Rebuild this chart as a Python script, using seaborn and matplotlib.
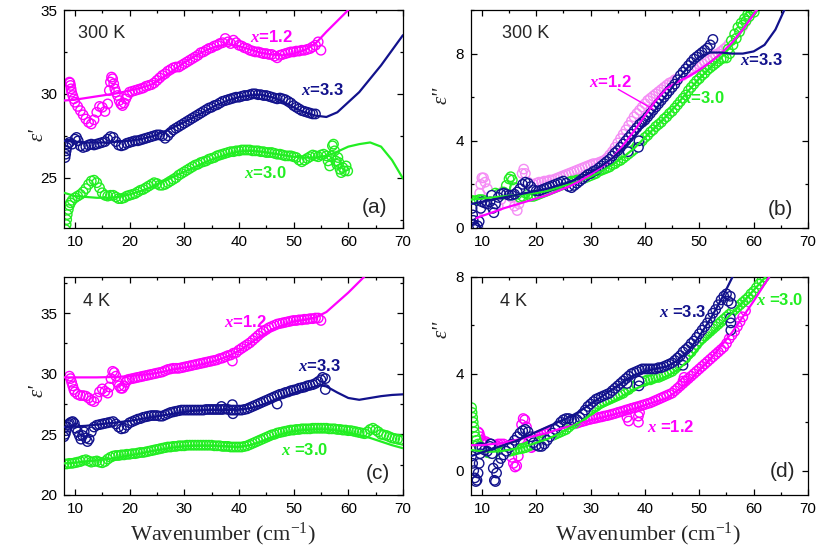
import numpy as np
import matplotlib
matplotlib.use("Agg")
import matplotlib.pyplot as plt
from matplotlib.ticker import MultipleLocator
import seaborn as sns


def wn(start, stop):
    """Measurement grid in wavenumber, 0.5 cm^-1 step, end inclusive."""
    return [round(v, 2) for v in np.arange(start, stop + 0.25, 0.5)]


# ---------------------------------------------------------------- panel (a): eps' at 300 K
A12_X = [9.0, 9.1, 9.2, 9.3, 9.4, 9.6, 9.8, 10.0, 10.5, 11.0,
         11.5, 12.0, 12.5, 13.0, 13.5, 14.0, 14.5, 15.0, 15.5, 16.0,
         16.3, 16.5, 16.7, 16.9, 17.1, 17.3, 17.5, 17.8, 18.1, 18.4,
         18.7, 19.0, 19.3, 19.6] + wn(20, 55)
A12_Y = [30.7, 30.65, 30.5, 30.3, 30.1, 29.9, 29.7, 29.5, 29.25, 29.0,
         28.75, 28.5, 28.3, 28.2, 28.45, 28.9, 29.25, 29.2, 28.95, 29.4,
         30.2, 30.7, 31.0, 30.9, 30.6, 30.3, 30.1, 29.9, 29.6, 29.4,
         29.3, 29.45, 29.7, 29.9,
         30.1, 30.15, 30.2, 30.25, 30.3, 30.35, 30.45, 30.5, 30.55, 30.65,
         30.8, 30.95, 31.1, 31.2, 31.35, 31.45, 31.55, 31.6, 31.6, 31.7,
         31.8, 31.9, 32.0, 32.1, 32.2, 32.3, 32.45, 32.5, 32.6, 32.7,
         32.75, 32.85, 32.9, 33.0, 33.05, 33.3, 33.1, 33.0, 33.2, 33.05,
         32.9, 32.85, 32.75, 32.7, 32.6, 32.55, 32.5, 32.5, 32.45, 32.4,
         32.4, 32.35, 32.35, 32.25, 32.15, 32.3, 32.35, 32.4, 32.45, 32.5,
         32.5, 32.55, 32.55, 32.6, 32.6, 32.65, 32.7, 32.8, 32.9, 33.1,
         32.6]

A33_X = [8.2, 8.3, 8.4, 8.5, 8.7, 9.0, 9.5, 10.0, 10.3, 10.6,
         11.0, 11.5, 12.0, 12.5, 13.0, 13.5, 14.0, 14.5, 15.0, 15.5,
         16.0, 16.5, 17.0, 17.5, 18.0, 18.5, 19.0, 19.5] + wn(20, 54)
A33_Y = [26.2, 26.4, 26.6, 26.8, 27.0, 27.1, 27.0, 27.3, 27.4, 27.2,
         26.9, 26.8, 26.85, 26.95, 27.0, 26.95, 27.0, 27.05, 27.1, 27.15,
         27.3, 27.45, 27.4, 27.15, 26.95, 26.9, 26.95, 27.05,
         27.1, 27.15, 27.2, 27.2, 27.25, 27.3, 27.35, 27.4, 27.45, 27.5,
         27.55, 27.55, 27.5, 27.35, 27.5, 27.7, 27.85, 27.95, 28.05, 28.15,
         28.25, 28.35, 28.45, 28.55, 28.65, 28.75, 28.85, 28.95, 29.05, 29.15,
         29.2, 29.3, 29.35, 29.45, 29.55, 29.6, 29.65, 29.7, 29.75, 29.8,
         29.8, 29.85, 29.9, 29.9, 29.95, 30.0, 30.0, 29.95, 29.95, 29.9,
         29.9, 29.85, 29.8, 29.75, 29.7, 29.75, 29.7, 29.65, 29.55, 29.45,
         29.3, 29.2, 29.1, 29.0, 28.95, 28.9, 28.85, 28.8, 28.8]

A30_X = [8.3, 8.4, 8.5, 8.6, 8.8, 9.0, 9.2, 9.5, 10.0, 10.5,
         11.0, 11.5, 12.0, 12.5, 13.0, 13.5, 14.0, 14.5, 15.0, 15.5,
         16.0, 16.5, 17.0, 17.5, 18.0, 18.5, 19.0, 19.5] + wn(20, 56) + [
         56.3, 56.6, 56.9, 57.1, 57.3, 57.5, 57.7, 57.9, 58.1, 58.3,
         58.5, 58.7, 59.0, 59.3, 59.6, 59.9]
A30_Y = [21.9, 22.2, 22.5, 22.8, 23.1, 23.35, 23.5, 23.65, 23.8, 23.9,
         24.0, 24.15, 24.35, 24.6, 24.8, 24.85, 24.7, 24.4, 24.1, 23.95,
         23.9, 23.95, 23.95, 23.85, 23.75, 23.75, 23.8, 23.9,
         23.95, 24.0, 24.05, 24.15, 24.25, 24.3, 24.4, 24.5, 24.6, 24.7,
         24.65, 24.55, 24.55, 24.6, 24.7, 24.8, 24.9, 25.0, 25.15, 25.25,
         25.35, 25.45, 25.55, 25.65, 25.75, 25.8, 25.9, 25.95, 26.0, 26.1,
         26.15, 26.2, 26.3, 26.35, 26.4, 26.45, 26.5, 26.55, 26.55, 26.6,
         26.6, 26.65, 26.65, 26.65, 26.65, 26.6, 26.6, 26.6, 26.55, 26.55,
         26.5, 26.5, 26.5, 26.45, 26.4, 26.4, 26.35, 26.3, 26.3, 26.3,
         26.25, 26.2, 26.05, 25.95, 26.05, 26.15, 26.25, 26.35, 26.3, 26.25,
         26.35, 26.4, 26.3,
         26.0, 25.7, 26.3, 26.9, 27.0, 26.6, 26.0, 25.8, 26.2, 25.9,
         25.5, 25.3, 25.6, 25.4, 25.7, 25.4]

FIT_A12_X = [8, 10, 12, 14, 16, 18, 20, 22, 24, 26, 28, 30, 32, 34, 36,
             38, 40, 42, 44, 46, 48, 50, 52, 54, 56, 58, 60, 62]
FIT_A12_Y = [29.6, 29.65, 29.75, 29.85, 29.95, 30.05, 30.2, 30.35, 30.55, 30.95,
             31.4, 31.85, 32.25, 32.6, 32.85, 32.95, 32.85, 32.65, 32.45, 32.35,
             32.3, 32.4, 32.6, 33.0, 33.7, 34.35, 35.0, 35.7]
FIT_A33_X = [8, 10, 12, 14, 16, 18, 20, 22, 24, 26, 28, 30, 32, 34, 36, 38,
             40, 42, 44, 46, 48, 50, 52, 54, 56, 58, 60, 62, 64, 66, 68, 70]
FIT_A33_Y = [27.2, 27.15, 27.1, 27.1, 27.1, 27.15, 27.2, 27.3, 27.45, 27.7,
             28.0, 28.3, 28.65, 29.0, 29.35, 29.6, 29.8, 29.9, 29.95, 29.8,
             29.55, 29.2, 28.9, 28.7, 28.62, 28.9, 29.5, 30.1, 30.9, 31.7,
             32.6, 33.5]
FIT_A30_X = FIT_A33_X
FIT_A30_Y = [24.1, 23.9, 23.85, 23.8, 23.8, 23.85, 24.0, 24.2, 24.45, 24.75,
             25.05, 25.35, 25.65, 25.95, 26.2, 26.4, 26.55, 26.6, 26.55, 26.45,
             26.35, 26.25, 26.2, 26.2, 26.3, 26.55, 26.85, 27.0, 27.1, 26.85,
             26.05, 24.95]

# ---------------------------------------------------------------- panel (b): eps'' at 300 K
B12_X = [8.5, 8.8, 9.0, 9.2, 9.4, 9.6, 9.8, 10.0, 10.3, 10.6,
         11.0, 11.5, 12.0, 12.5, 13.0, 13.5, 14.0, 14.5, 15.0, 15.5,
         16.0, 16.5, 16.8, 17.1, 17.4, 17.7, 18.0, 18.5, 19.0, 19.5] + wn(20, 60)
B12_Y = [1.0, 0.6, 0.5, 0.7, 1.1, 1.6, 2.0, 2.3, 2.3, 2.1,
         1.8, 1.4, 1.1, 0.95, 1.0, 1.3, 1.7, 1.9, 1.8, 1.4,
         1.0, 0.8, 1.1, 1.8, 2.5, 2.7, 2.5, 2.1, 1.9, 2.0,
         2.05, 2.1, 2.1, 2.15, 2.15, 2.2, 2.2, 2.25, 2.3, 2.35,
         2.4, 2.45, 2.5, 2.55, 2.6, 2.65, 2.7, 2.75, 2.8, 2.85,
         2.9, 2.95, 2.95, 3.0, 3.05, 3.1, 3.2, 3.35, 3.5, 3.7,
         3.9, 4.1, 4.3, 4.5, 4.7, 4.9, 5.1, 5.25, 5.4, 5.55,
         5.7, 5.85, 5.95, 6.05, 6.15, 6.25, 6.35, 6.45, 6.55, 6.65,
         6.7, 6.8, 6.85, 6.95, 7.0, 7.1, 7.15, 7.25, 7.3, 7.4,
         7.5, 7.55, 7.65, 7.7, 7.8, 7.85, 7.95, 8.0, 8.1, 8.2,
         8.3, 8.45, 8.6, 8.75, 8.9, 9.05, 9.25, 9.45, 9.65, 9.85,
         10.05]

B33_X = [8.2, 8.3, 8.4, 8.5, 8.7, 8.9, 9.2, 9.5, 9.8, 10.0,
         10.5, 11.0, 11.5, 11.8, 12.0, 12.2, 12.5, 13.0, 13.5, 14.0,
         14.5, 15.0, 15.5, 16.0, 16.5, 17.0, 17.5, 18.0, 18.5, 19.0,
         19.5] + wn(20, 52.5) + [36.9, 38.8, 38.9]
B33_Y = [0.9, 0.6, 0.35, 0.15, 0.05, 0.0, 0.1, 0.3, 0.9, 1.2,
         1.15, 1.1, 1.2, 1.5, 0.9, 0.7, 1.1, 1.4, 1.55, 1.6,
         1.55, 1.5, 1.5, 1.55, 1.65, 1.8, 2.0, 2.1, 2.05, 1.9,
         1.75,
         1.7, 1.7, 1.75, 1.8, 1.85, 1.9, 1.95, 2.0, 2.05, 2.1,
         2.15, 2.05, 1.9, 1.85, 1.95, 2.05, 2.15, 2.25, 2.35, 2.45,
         2.5, 2.6, 2.65, 2.75, 2.85, 2.95, 3.05, 3.15, 3.3, 3.45,
         3.55, 3.7, 3.85, 4.0, 4.15, 4.3, 4.45, 4.6, 4.75, 4.85,
         4.95, 5.1, 5.25, 5.4, 5.55, 5.7, 5.85, 6.0, 6.15, 6.3,
         6.45, 6.6, 6.8, 7.0, 7.15, 7.3, 7.45, 7.6, 7.75, 7.85,
         7.95, 8.05, 8.15, 8.25, 8.4, 8.65,
         3.5, 3.7, 4.0]

B30_X = [8.2, 8.5, 9.0, 9.5, 10.0, 10.5, 11.0, 11.5, 12.0, 12.5,
         13.0, 13.5, 14.0, 14.5, 15.0, 15.3, 15.6, 16.0, 16.5, 17.0,
         17.5, 18.0, 18.5, 19.0, 19.5] + wn(20, 54.5) + [
         55.0, 55.3, 55.6, 55.9, 56.2, 56.5, 56.8, 57.1, 57.4, 57.7,
         58.0, 58.3, 58.6, 58.9, 59.2, 59.5, 59.8, 60.1]
B30_Y = [1.25, 1.25, 1.25, 1.3, 1.3, 1.25, 1.2, 1.3, 1.45, 1.6,
         1.55, 1.5, 1.65, 1.95, 2.25, 2.35, 2.2, 1.85, 1.55, 1.4,
         1.45, 1.6, 1.55, 1.45, 1.45,
         1.5, 1.55, 1.6, 1.65, 1.7, 1.75, 1.8, 1.85, 1.9, 1.95,
         2.0, 2.05, 2.1, 2.15, 2.15, 2.2, 2.2, 2.25, 2.3, 2.35,
         2.4, 2.45, 2.5, 2.6, 2.65, 2.7, 2.75, 2.8, 2.9, 2.95,
         3.05, 3.1, 3.2, 3.3, 3.4, 3.5, 3.6, 3.75, 3.85, 4.0,
         4.15, 4.25, 4.4, 4.5, 4.65, 4.75, 4.85, 5.0, 5.1, 5.25,
         5.35, 5.5, 5.65, 5.8, 5.95, 6.1, 6.3, 6.45, 6.6, 6.75,
         6.85, 7.0, 7.1, 7.25, 7.35, 7.45, 7.55, 7.65, 7.75, 7.8,
         7.8, 8.2, 8.0, 8.6, 8.4, 8.9, 8.7, 9.2, 9.0, 9.4,
         9.3, 9.6, 9.5, 9.8, 9.7, 9.9, 10.0, 9.9]

FIT_B12_X = [9, 10, 12, 14, 16, 18, 20, 22, 24, 26, 28, 30, 32, 34, 36, 38,
             40, 42, 44, 46, 48, 50, 52, 54, 56, 58, 60, 62]
FIT_B12_Y = [0.45, 0.55, 0.72, 0.9, 1.05, 1.2, 1.35, 1.5, 1.7, 1.9,
             2.15, 2.45, 2.8, 3.2, 3.8, 4.45, 5.15, 5.85, 6.4, 6.7,
             6.95, 7.25, 7.6, 8.0, 8.5, 9.1, 9.8, 10.5]
FIT_B33_X = [8, 10, 12, 14, 16, 18, 20, 22, 24, 26, 28, 30, 32, 34, 36, 38,
             40, 42, 44, 46, 48, 50, 52, 54, 56, 58, 60, 62, 64, 66]
FIT_B33_Y = [1.1, 1.2, 1.3, 1.4, 1.5, 1.6, 1.7, 1.8, 1.95, 2.1,
             2.3, 2.55, 2.85, 3.2, 3.65, 4.2, 4.8, 5.45, 6.1, 6.8,
             7.4, 7.85, 8.05, 8.05, 8.0, 8.0, 8.1, 8.4, 9.1, 10.2]
FIT_B30_X = [8, 10, 12, 14, 16, 18, 20, 22, 24, 26, 28, 30, 32, 34, 36, 38,
             40, 42, 44, 46, 48, 50, 52, 54, 56, 58, 60, 62]
FIT_B30_Y = [1.3, 1.35, 1.4, 1.45, 1.5, 1.55, 1.6, 1.7, 1.85, 2.0,
             2.15, 2.35, 2.6, 2.9, 3.25, 3.65, 4.15, 4.65, 5.15, 5.7,
             6.3, 6.85, 7.35, 7.8, 8.4, 9.1, 9.85, 10.6]

# ---------------------------------------------------------------- panel (c): eps' at 4 K
C12_X = [9.0, 9.2, 9.4, 9.6, 9.8, 10.0, 10.5, 11.0, 11.5, 12.0,
         12.5, 13.0, 13.5, 14.0, 14.5, 15.0, 15.5, 16.0, 16.3, 16.6,
         16.9, 17.2, 17.5, 17.8, 18.1, 18.4, 18.7, 19.0, 19.3, 19.6] + wn(20, 55) + [38.8]
C12_Y = [29.8, 29.6, 29.3, 29.0, 28.7, 28.5, 28.3, 28.2, 28.2, 28.15,
         28.0, 27.8, 27.7, 28.0, 28.5, 28.75, 28.55, 28.4, 28.9, 29.6,
         30.2, 30.1, 29.8, 29.3, 29.0, 28.8, 28.8, 29.0, 29.3, 29.5,
         29.55, 29.6, 29.65, 29.7, 29.75, 29.8, 29.85, 29.9, 29.95, 30.0,
         30.05, 30.1, 30.15, 30.25, 30.35, 30.4, 30.45, 30.45, 30.45, 30.5,
         30.55, 30.6, 30.65, 30.7, 30.75, 30.8, 30.85, 30.9, 30.95, 31.0,
         31.05, 31.1, 31.15, 31.25, 31.3, 31.4, 31.5, 31.55, 31.7, 31.75,
         31.95, 32.1, 32.25, 32.4, 32.55, 32.75, 32.95, 33.15, 33.35, 33.5,
         33.65, 33.8, 33.9, 34.0, 34.1, 34.15, 34.2, 34.25, 34.3, 34.35,
         34.4, 34.4, 34.45, 34.45, 34.5, 34.5, 34.55, 34.55, 34.6, 34.6,
         34.4,
         31.05]

C33_X = [8.0, 8.2, 8.4, 8.6, 8.8, 9.0, 9.3, 9.6, 9.9, 10.2,
         10.5, 10.8, 11.1, 11.4, 11.7, 12.0, 12.3, 12.6, 13.0, 13.5,
         14.0, 14.5, 15.0, 15.5, 16.0, 16.5, 17.0, 17.5, 18.0, 18.5,
         19.0, 19.5] + wn(20, 55) + [36.8, 38.8, 38.9, 47.0, 55.3, 55.8, 55.8]
C33_Y = [24.8, 25.0, 25.3, 25.6, 25.8, 25.9, 26.0, 26.05, 25.9, 25.5,
         25.2, 24.9, 24.6, 24.9, 25.2, 24.7, 24.4, 24.6, 25.2, 25.6,
         25.75, 25.8, 25.85, 25.9, 25.95, 26.0, 26.05, 25.85, 25.6, 25.45,
         25.5, 25.75,
         25.95, 26.05, 26.15, 26.25, 26.3, 26.4, 26.45, 26.5, 26.55, 26.55,
         26.55, 26.5, 26.5, 26.6, 26.7, 26.8, 26.85, 26.9, 26.95, 27.0,
         27.0, 27.0, 27.0, 27.0, 27.0, 27.0, 27.0, 27.0, 27.05, 27.05,
         27.05, 27.05, 27.05, 27.05, 27.05, 27.1, 27.05, 27.0, 27.0, 27.0,
         27.0, 27.0, 27.05, 27.1, 27.2, 27.3, 27.4, 27.5, 27.6, 27.7,
         27.8, 27.9, 28.0, 28.1, 28.2, 28.3, 28.35, 28.45, 28.5, 28.6,
         28.65, 28.7, 28.8, 28.85, 28.9, 29.0, 29.05, 29.1, 29.2, 29.35,
         29.5,
         27.3, 27.45, 26.7, 27.5, 29.7, 29.6, 28.7]

C30_X = wn(8, 70)
C30_Y = [22.55, 22.55, 22.6, 22.6, 22.65, 22.7, 22.75, 22.85, 22.9, 22.8,
         22.7, 22.75, 22.8, 22.7, 22.65, 22.75, 22.95, 23.1, 23.2, 23.25,
         23.25, 23.3, 23.3, 23.35, 23.35, 23.4, 23.4, 23.45, 23.5, 23.5,
         23.55, 23.6, 23.65, 23.7, 23.75, 23.8, 23.85, 23.9, 23.95, 23.95,
         24.0, 24.0, 24.05, 24.05, 24.05, 24.1, 24.1, 24.1, 24.1, 24.1,
         24.1, 24.1, 24.1, 24.1, 24.1, 24.05, 24.05, 24.05, 24.0, 24.0,
         24.0, 23.95, 23.95, 23.95, 23.95, 23.95, 24.0, 24.05, 24.15, 24.25,
         24.35, 24.45, 24.55, 24.65, 24.75, 24.85, 24.95, 25.0, 25.1, 25.15,
         25.2, 25.25, 25.3, 25.35, 25.35, 25.4, 25.4, 25.45, 25.45, 25.45,
         25.45, 25.5, 25.5, 25.5, 25.5, 25.5, 25.5, 25.45, 25.45, 25.45,
         25.4, 25.4, 25.35, 25.35, 25.3, 25.3, 25.25, 25.2, 25.15, 25.1,
         25.05, 25.2, 25.4, 25.5, 25.35, 25.2, 25.0, 24.95, 24.9, 24.8,
         24.7, 24.65, 24.6, 24.55, 24.5]

FIT_C12_X = [8, 10, 12, 14, 16, 18, 20, 22, 24, 26, 28, 30, 32, 34, 36, 38,
             40, 42, 44, 46, 48, 50, 52, 54, 56, 58, 60, 62, 64]
FIT_C12_Y = [29.7, 29.7, 29.7, 29.7, 29.72, 29.75, 29.8, 29.9, 30.0, 30.15,
             30.35, 30.5, 30.65, 30.85, 31.1, 31.45, 31.9, 32.5, 33.1, 33.65,
             34.0, 34.3, 34.45, 34.65, 35.1, 35.9, 36.7, 37.6, 38.5]
FIT_C33_X = [8, 10, 12, 14, 16, 18, 20, 22, 24, 26, 28, 30, 32, 34, 36, 38,
             40, 42, 44, 46, 48, 50, 52, 54, 55, 56, 58, 60, 62, 64, 66, 68, 70]
FIT_C33_Y = [25.6, 25.65, 25.7, 25.8, 25.9, 26.0, 26.1, 26.25, 26.4, 26.55,
             26.7, 26.85, 26.95, 27.0, 27.0, 27.0, 27.05, 27.15, 27.4, 27.75,
             28.1, 28.4, 28.7, 28.95, 29.05, 28.95, 28.45, 28.0, 27.85, 28.0,
             28.15, 28.25, 28.3]
FIT_C30_X = [8, 10, 12, 14, 16, 18, 20, 22, 24, 26, 28, 30, 32, 34, 36, 38,
             40, 42, 44, 46, 48, 50, 52, 54, 56, 58, 60, 62, 64, 66, 68, 70]
FIT_C30_Y = [22.6, 22.65, 22.75, 22.85, 22.95, 23.1, 23.25, 23.4, 23.6, 23.75,
             23.9, 24.0, 24.05, 24.05, 24.05, 24.0, 23.95, 24.1, 24.4, 24.75,
             25.05, 25.25, 25.35, 25.4, 25.4, 25.3, 25.15, 24.95, 24.7, 24.4,
             24.1, 23.85]

# ---------------------------------------------------------------- panel (d): eps'' at 4 K
D12_X = [9.3, 9.5, 9.7, 9.9, 10.1, 10.4, 10.7, 11.0, 11.5, 12.0,
         12.5, 13.0, 13.5, 14.0, 14.5, 15.0, 15.5, 15.8, 16.1, 16.4,
         16.7, 17.0, 17.3, 17.6, 17.9, 18.2, 18.5, 18.8, 19.1, 19.4,
         19.7] + wn(20, 58.5) + [36.7, 37.0, 38.8, 38.8, 39.0, 47.0, 47.2]
D12_Y = [1.6, 1.55, 1.4, 1.25, 1.1, 1.15, 1.2, 1.15, 1.1, 1.05,
         1.05, 1.1, 1.1, 1.1, 1.0, 0.8, 0.55, 0.3, 0.15, 0.2,
         0.6, 1.3, 1.9, 2.15, 2.1, 1.8, 1.45, 1.1, 0.95, 1.0,
         1.25,
         1.4, 1.45, 1.5, 1.55, 1.6, 1.65, 1.7, 1.72, 1.75, 1.78,
         1.8, 1.83, 1.86, 1.9, 1.93, 1.96, 2.0, 2.03, 2.06, 2.1,
         2.12, 2.15, 2.17, 2.2, 2.22, 2.25, 2.27, 2.3, 2.33, 2.36,
         2.4, 2.43, 2.46, 2.5, 2.53, 2.57, 2.6, 2.63, 2.66, 2.7,
         2.73, 2.77, 2.8, 2.85, 2.9, 2.95, 3.0, 3.05, 3.1, 3.15,
         3.2, 3.3, 3.4, 3.5, 3.6, 3.7, 3.8, 3.9, 4.0, 4.1,
         4.2, 4.3, 4.4, 4.5, 4.6, 4.7, 4.8, 4.9, 5.0, 5.1,
         5.25, 5.45, 5.6, 5.75, 5.95, 6.15, 6.35, 6.6,
         2.2, 2.05, 2.0, 2.25, 2.4, 3.7, 3.85]

D33_X = [8.1, 8.3, 8.5, 8.7, 8.9, 9.1, 9.3, 9.5, 9.7, 10.0,
         10.5, 11.0, 11.5, 11.7, 11.9, 12.1, 12.3, 12.5, 12.7, 13.0,
         13.5, 14.0, 14.5, 15.0, 15.5, 16.0, 16.5, 17.0, 17.5, 18.0,
         18.5, 19.0, 19.5] + wn(20, 55) + [
         36.7, 38.9, 38.9, 47.0, 47.0, 55.3, 55.7, 55.9, 55.7, 55.8, 55.8, 9.6, 11.6]
D33_Y = [0.6, 0.3, 0.0, -0.3, -0.45, -0.4, -0.1, 0.3, 0.7, 0.95,
         0.85, 0.8, 1.0, 1.1, 0.7, 0.1, -0.4, -0.45, -0.1, 0.3,
         0.5, 0.65, 0.8, 0.95, 1.1, 1.25, 1.4, 1.55, 1.65, 1.7,
         1.6, 1.4, 1.15,
         1.05, 1.0, 1.0, 1.1, 1.25, 1.4, 1.55, 1.7, 1.85, 2.0,
         2.1, 2.15, 2.15, 2.1, 2.05, 2.1, 2.2, 2.35, 2.5, 2.65,
         2.75, 2.85, 2.95, 3.0, 3.05, 3.1, 3.15, 3.2, 3.3, 3.4,
         3.5, 3.6, 3.7, 3.8, 3.9, 4.0, 4.05, 4.1, 4.15, 4.2,
         4.2, 4.2, 4.2, 4.2, 4.2, 4.25, 4.25, 4.3, 4.35, 4.4,
         4.45, 4.55, 4.65, 4.75, 4.9, 5.0, 5.1, 5.25, 5.35, 5.5,
         5.65, 5.8, 5.95, 6.1, 6.3, 6.5, 6.65, 6.85, 7.05, 7.2,
         7.3,
         3.6, 3.5, 3.7, 4.35, 4.55, 7.0, 7.2, 6.9, 6.3, 6.1, 5.8, 0.95, 1.1]

D30_X = [8.1, 8.2, 8.3, 8.4, 8.5, 8.6, 8.8, 9.0, 9.3, 9.6,
         10.0, 10.5, 11.0, 11.5, 12.0, 12.5, 13.0, 13.5, 14.0, 14.5,
         15.0, 15.5, 16.0, 16.5, 17.0, 17.5, 18.0, 18.5, 19.0, 19.5] + wn(20, 62)
D30_Y = [2.6, 2.4, 2.2, 2.0, 1.8, 1.6, 1.4, 1.25, 1.1, 1.0,
         0.9, 0.8, 0.75, 0.72, 0.7, 0.72, 0.75, 0.75, 0.78, 0.8,
         0.8, 0.82, 0.85, 0.88, 0.9, 0.92, 0.95, 1.0, 1.05, 1.1,
         1.15, 1.2, 1.25, 1.3, 1.35, 1.4, 1.45, 1.5, 1.55, 1.6,
         1.65, 1.7, 1.8, 1.9, 1.95, 2.05, 2.15, 2.25, 2.35, 2.45,
         2.5, 2.6, 2.65, 2.75, 2.8, 2.85, 2.9, 2.95, 3.0, 3.05,
         3.1, 3.15, 3.2, 3.3, 3.35, 3.45, 3.5, 3.55, 3.6, 3.65,
         3.7, 3.75, 3.75, 3.8, 3.85, 3.85, 3.9, 3.95, 4.0, 4.05,
         4.1, 4.2, 4.3, 4.4, 4.5, 4.65, 4.8, 4.9, 5.05, 5.2,
         5.35, 5.45, 5.55, 5.65, 5.75, 5.85, 5.95, 6.05, 6.15, 6.25,
         6.35, 6.45, 6.55, 6.65, 6.75, 6.85, 6.95, 7.05, 7.15, 7.3,
         7.4, 7.55, 7.7, 7.85, 8.0]

FIT_D12_X = [8, 10, 12, 14, 16, 18, 20, 22, 24, 26, 28, 30, 32, 34, 36, 38,
             40, 42, 44, 46, 48, 50, 52, 54, 56, 58, 60, 62, 63]
FIT_D12_Y = [1.05, 1.05, 1.1, 1.15, 1.25, 1.35, 1.45, 1.55, 1.7, 1.82,
             1.95, 2.08, 2.18, 2.3, 2.42, 2.55, 2.7, 2.85, 3.0, 3.3,
             3.65, 4.15, 4.6, 5.15, 5.7, 6.35, 7.0, 7.7, 8.05]
FIT_D33_X = [8, 10, 12, 14, 16, 18, 20, 22, 24, 26, 28, 30, 32, 34, 36, 38,
             40, 42, 44, 46, 48, 50, 52, 54, 56, 57]
FIT_D33_Y = [0.6, 0.75, 0.9, 1.05, 1.2, 1.4, 1.6, 1.8, 2.0, 2.2,
             2.45, 2.75, 3.05, 3.35, 3.65, 3.95, 4.1, 4.2, 4.3, 4.55,
             4.95, 5.55, 6.25, 7.05, 7.95, 8.4]
FIT_D30_X = [8, 10, 12, 14, 16, 18, 20, 22, 24, 26, 28, 30, 32, 34, 36, 38,
             40, 42, 44, 46, 48, 50, 52, 54, 56, 58, 60, 62, 64]
FIT_D30_Y = [0.85, 0.8, 0.78, 0.82, 0.9, 1.0, 1.15, 1.3, 1.5, 1.75,
             2.0, 2.3, 2.6, 2.85, 3.1, 3.35, 3.55, 3.7, 3.9, 4.15,
             4.55, 5.1, 5.6, 6.05, 6.5, 6.95, 7.45, 7.95, 8.45]

# ---------------------------------------------------------------- styling
MAGENTA = "#FF00FF"
PINK = "#F58CF5"
NAVY = "#12128C"
GREEN = "#22EE22"

sns.set_theme(style="ticks")
plt.rcParams.update({
    "font.family": ["Liberation Sans", "DejaVu Sans"],
    "mathtext.fontset": "custom",
    "mathtext.rm": "Liberation Serif",
    "mathtext.it": "Liberation Serif:italic:bold",
    "mathtext.bf": "Liberation Serif:bold",
    "axes.edgecolor": "black",
    "axes.linewidth": 0.9,
    "axes.facecolor": "white",
    "xtick.color": "black", "ytick.color": "black",
    "xtick.direction": "in", "ytick.direction": "in",
    "xtick.top": True, "ytick.right": True,
    "xtick.major.size": 4.5, "ytick.major.size": 4.5,
    "xtick.minor.size": 2.5, "ytick.minor.size": 2.5,
    "xtick.major.width": 0.9, "ytick.major.width": 0.9,
    "xtick.minor.width": 0.9, "ytick.minor.width": 0.9,
    "xtick.labelsize": 11, "ytick.labelsize": 11,
    "xtick.major.pad": 5, "ytick.major.pad": 5,
})

MARK_AREA = 46
MARK_EDGE = 1.0


def draw_points(ax, x, y, color):
    # white discs under open rings, so the rings hide whatever lies beneath
    sns.scatterplot(x=x, y=y, ax=ax, color="white", s=MARK_AREA, linewidth=0,
                    legend=False, zorder=2)
    sns.scatterplot(x=x, y=y, ax=ax, color=color, s=MARK_AREA,
                    linewidth=MARK_EDGE, legend=False, zorder=2)
    rings = ax.collections[-1]
    rings.set_facecolor("none")
    rings.set_edgecolor(color)


def draw_fit(ax, x, y, color):
    sns.lineplot(x=x, y=y, ax=ax, color=color, linewidth=1.6,
                 estimator=None, sort=False, zorder=3)


def label(ax, x, y, text, color, **kw):
    ax.text(x, y, text, color=color, fontsize=12, fontweight="bold",
            ha="center", va="center", zorder=4, **kw)


def frame(ax, ylim, ymajor, yminor, ylab, ylab_pos):
    ax.set_xlim(8, 70)
    ax.set_ylim(*ylim)
    ax.xaxis.set_major_locator(MultipleLocator(10))
    ax.xaxis.set_minor_locator(MultipleLocator(5))
    ax.yaxis.set_major_locator(MultipleLocator(ymajor))
    ax.yaxis.set_minor_locator(MultipleLocator(yminor))
    ax.tick_params(which="both", top=True, right=True)
    ax.set_xlabel("")
    ax.set_ylabel(ylab, family="Liberation Serif", style="italic", fontsize=15,
                  rotation=90, ha="center", va="center")
    ax.yaxis.set_label_coords(*ylab_pos)


fig = plt.figure(figsize=(8.19, 5.56), dpi=100)
ax_a = fig.add_axes([0.0781, 0.590, 0.4139, 0.392])
ax_b = fig.add_axes([0.5751, 0.590, 0.4115, 0.392])
ax_c = fig.add_axes([0.0781, 0.110, 0.4139, 0.392])
ax_d = fig.add_axes([0.5751, 0.110, 0.4115, 0.392])

# (a)
draw_points(ax_a, A12_X, A12_Y, MAGENTA)
draw_points(ax_a, A33_X, A33_Y, NAVY)
draw_points(ax_a, A30_X, A30_Y, GREEN)
draw_fit(ax_a, FIT_A12_X, FIT_A12_Y, MAGENTA)
draw_fit(ax_a, FIT_A33_X, FIT_A33_Y, NAVY)
draw_fit(ax_a, FIT_A30_X, FIT_A30_Y, GREEN)
frame(ax_a, (22, 35), 5, 2.5, "ε'", (-0.077, 0.43))
ax_a.text(10.6, 33.6, "300 K", fontsize=13, ha="left", va="center")
ax_a.text(67.2, 23.25, "(a)", fontsize=15, ha="right", va="center")
label(ax_a, 46.0, 33.4, "$x$=1.2", MAGENTA)
label(ax_a, 55.2, 30.2, "$x$=3.3", NAVY)
label(ax_a, 44.9, 25.3, "$x$=3.0", GREEN)

# (b)
draw_points(ax_b, B12_X, B12_Y, PINK)
draw_points(ax_b, B30_X, B30_Y, GREEN)
draw_points(ax_b, B33_X, B33_Y, NAVY)
draw_fit(ax_b, FIT_B30_X, FIT_B30_Y, GREEN)
draw_fit(ax_b, FIT_B12_X, FIT_B12_Y, MAGENTA)
draw_fit(ax_b, FIT_B33_X, FIT_B33_Y, NAVY)
frame(ax_b, (0, 10), 4, 2, "ε''", (-0.086, 0.61))
ax_b.text(13.7, 8.9, "300 K", fontsize=13, ha="left", va="center")
ax_b.text(67.3, 0.83, "(b)", fontsize=15, ha="right", va="center")
label(ax_b, 33.6, 6.7, "$x$=1.2", MAGENTA)
ax_b.plot([35.1, 41.5], [6.36, 5.45], color=MAGENTA, linewidth=1.0, zorder=4)
label(ax_b, 61.4, 7.7, "$x$=3.3", NAVY)
label(ax_b, 50.8, 5.95, "$x$=3.0", GREEN)

# (c)
draw_points(ax_c, C12_X, C12_Y, MAGENTA)
draw_points(ax_c, C33_X, C33_Y, NAVY)
draw_points(ax_c, C30_X, C30_Y, GREEN)
draw_fit(ax_c, FIT_C12_X, FIT_C12_Y, MAGENTA)
draw_fit(ax_c, FIT_C33_X, FIT_C33_Y, NAVY)
draw_fit(ax_c, FIT_C30_X, FIT_C30_Y, GREEN)
frame(ax_c, (20, 38), 5, 2.5, "ε'", (-0.077, 0.48))
ax_c.text(11.5, 36.0, "4 K", fontsize=13, ha="left", va="center")
ax_c.text(67.6, 21.8, "(c)", fontsize=15, ha="right", va="center")
label(ax_c, 41.1, 34.3, "$x$=1.2", MAGENTA)
label(ax_c, 54.8, 30.65, "$x$=3.3", NAVY)
label(ax_c, 52.1, 23.7, "$x$ =3.0", GREEN)

# (d)
draw_points(ax_d, D12_X, D12_Y, MAGENTA)
draw_points(ax_d, D30_X, D30_Y, GREEN)
draw_points(ax_d, D33_X, D33_Y, NAVY)
draw_fit(ax_d, FIT_D12_X, FIT_D12_Y, MAGENTA)
draw_fit(ax_d, FIT_D30_X, FIT_D30_Y, GREEN)
draw_fit(ax_d, FIT_D33_X, FIT_D33_Y, NAVY)
frame(ax_d, (-1, 8), 4, 2, "ε''", (-0.087, 0.757))
ax_d.text(13.3, 7.0, "4 K", fontsize=13, ha="left", va="center")
ax_d.text(67.6, -0.04, "(d)", fontsize=15, ha="right", va="center")
label(ax_d, 47.0, 6.57, "$x$ =3.3", NAVY)
label(ax_d, 64.7, 7.05, "$x$ =3.0", GREEN)
label(ax_d, 44.8, 1.82, "$x$ =1.2", MAGENTA)

for ax, cx in ((ax_c, 0.47), (ax_d, 0.525)):
    ax.set_xlabel("Wavenumber (cm$^{-1}$)", family="Liberation Serif",
                  fontsize=16, va="center")
    ax.xaxis.set_label_coords(cx, -0.183)

fig.savefig("out.png", dpi=100)
